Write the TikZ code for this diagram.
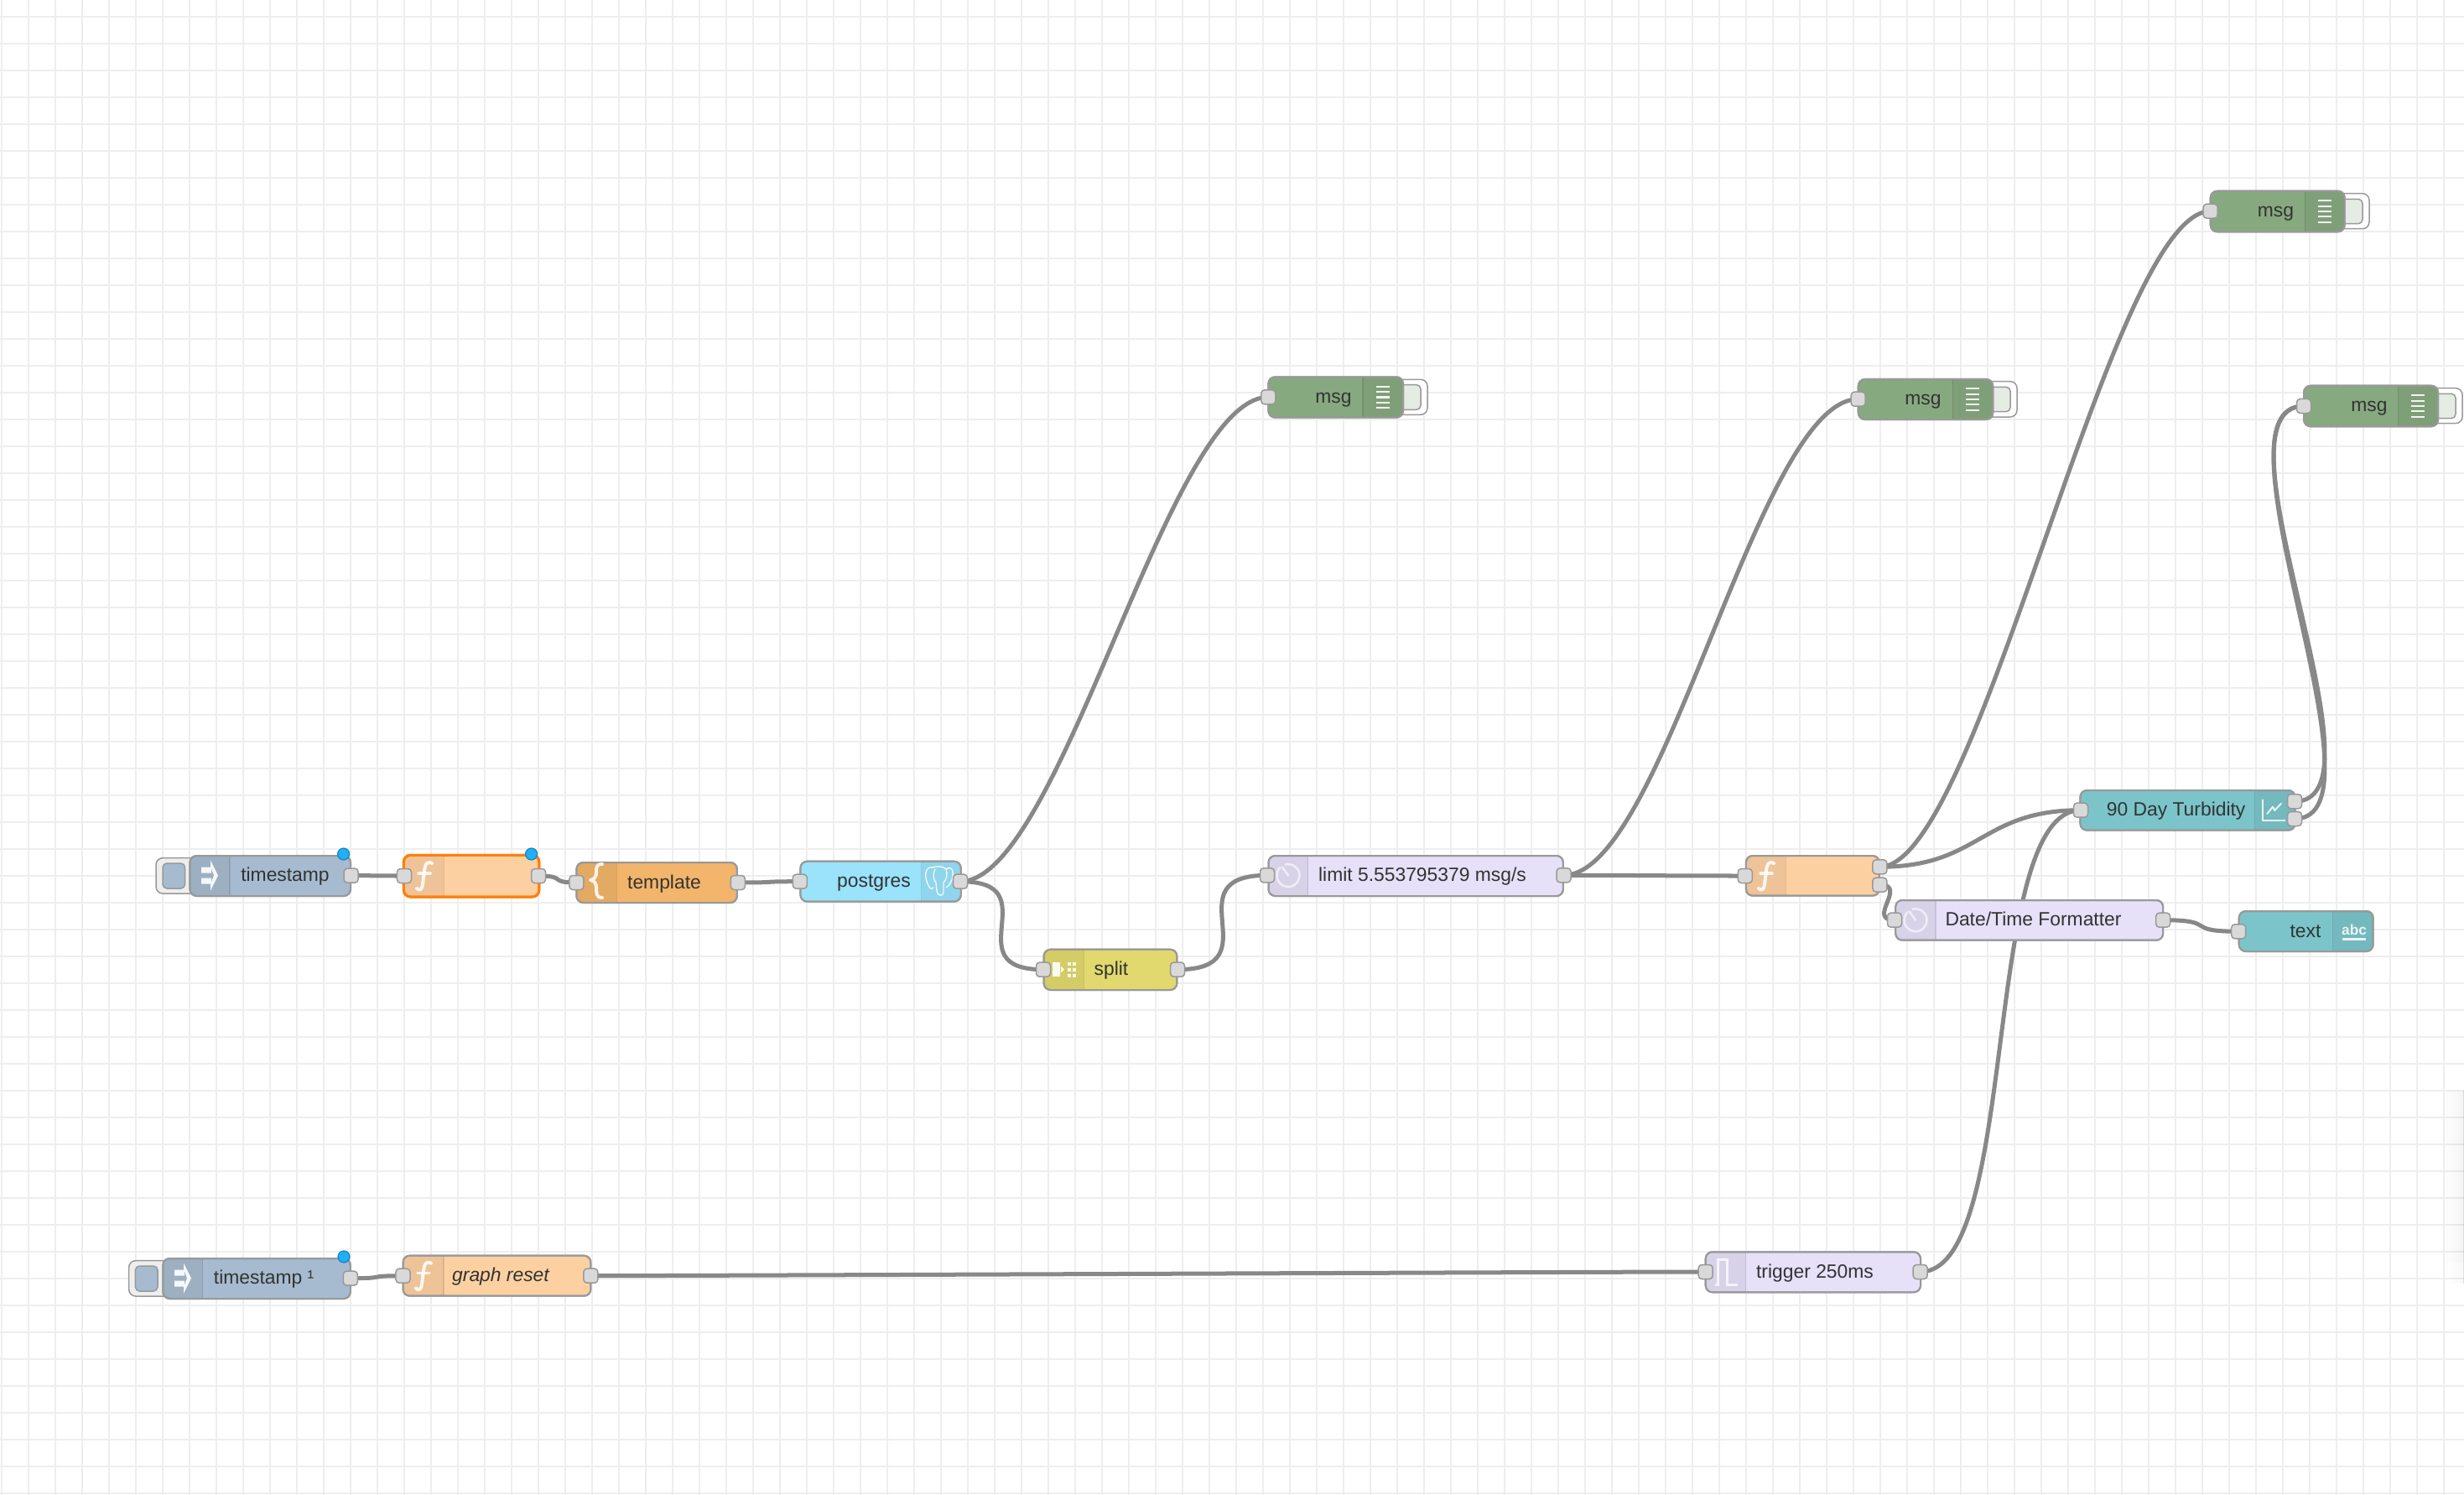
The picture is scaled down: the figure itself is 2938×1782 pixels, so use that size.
\documentclass[tikz,border=0pt]{standalone}
\usepackage{fontspec}
\setmainfont{Liberation Sans}
\usetikzlibrary{calc}
\pgfdeclarelayer{bg}\pgfdeclarelayer{wires}
\pgfsetlayers{bg,wires,main}
\definecolor{cInject}{HTML}{A6BBCF}
\definecolor{cFunc}{HTML}{FDD0A2}
\definecolor{cTempl}{HTML}{F2B56B}
\definecolor{cPg}{HTML}{9AE3FA}
\definecolor{cSplit}{HTML}{E2D96E}
\definecolor{cLimit}{HTML}{E6E0F8}
\definecolor{cMsg}{HTML}{87A980}
\definecolor{cDash}{HTML}{7BC5CA}
\definecolor{cEdge}{HTML}{999999}
\definecolor{cWire}{HTML}{888888}
\definecolor{cGrid}{HTML}{EEEEEE}
\definecolor{cPort}{HTML}{D9D9D9}
\definecolor{cText}{HTML}{333333}
\definecolor{cSel}{HTML}{FF7F0E}
\definecolor{cBadge}{HTML}{1FB0F7}
\tikzset{
  x=0.01cm,y=-0.01cm,
  flowbox/.style={draw=cEdge,line width=0.02cm,rounded corners=0.08cm,inner sep=0,outer sep=0},
  flowedge/.style={draw=cEdge,line width=0.02cm,rounded corners=0.08cm},
  selected/.style={draw=cSel,line width=0.03cm},
  portbox/.style={draw=cEdge,fill=cPort,line width=0.015cm,rounded corners=0.04cm,inner sep=0,outer sep=0,minimum width=0.17cm,minimum height=0.17cm},
  lbl/.style={anchor=base,inner sep=0,text=cText,font=\fontsize{6.5}{8}\selectfont},
  badge/.style={circle,draw=black!25!cBadge,fill=cBadge,line width=0.012cm,inner sep=0,minimum size=0.14cm},
  wire/.style={line width=0.05cm,draw=cWire,to path={.. controls ($(\tikztostart)+(#1,0)$) and ($(\tikztotarget)-(#1,0)$) .. (\tikztotarget)}},
  wire/.default=120,
  iconline/.style={draw=white,line width=0.035cm,opacity=.85,line cap=round,line join=round},
  iconfill/.style={fill=white,opacity=.9},
  btnouter/.style={draw=cEdge,line width=0.015cm,rounded corners=0.08cm},
  btninner/.style={draw=cEdge,line width=0.015cm,rounded corners=0.05cm},
}
\newcommand{\flow}[9][]{%
  \node[flowbox,fill=#7,#1,minimum width={(#5-#3)*0.01cm},minimum height={(#6-#4)*0.01cm}] (#2) at ({(#3+#5)/2},{(#4+#6)/2}) {};
  \begin{scope}
    \clip[rounded corners=0.08cm] (#3,#4) rectangle (#5,#6);
    \fill[black,opacity=.06] (#8,#4) rectangle (#9,#6);
    \draw[black,opacity=.1,line width=0.015cm] (#8,#4) -- (#8,#6) (#9,#4) -- (#9,#6);
  \end{scope}
  \draw[flowedge,#1] (#3,#4) rectangle (#5,#6);
}
\newcommand{\port}[3]{\node[portbox] (#1) at (#2,#3) {};}
\newcommand{\flowlabel}[4]{\node[lbl] (#1) at (#2,{#3+7}) {#4};}
\newcommand{\iconinject}[2]{\begin{scope}[shift={(#1,#2)}]
  \fill[iconfill] (-10,-10) rectangle (2,-3) (-10,3) rectangle (2,10);
  \fill[iconfill] (1,-18) -- (10,0) -- (1,18) -- (1,11) -- (5,0) -- (1,-11) -- cycle;
  \end{scope}}
\newcommand{\iconfunc}[2]{\begin{scope}[shift={(#1,#2)}]
  \draw[iconline,line width=0.04cm] (10,-15) .. controls (4,-18) and (2,-14) .. (1,-6) -- (-1,10) .. controls (-2,17) and (-5,18) .. (-8,15);
  \draw[iconline] (-6,-3) -- (8,-3);
  \end{scope}}
\newcommand{\iconbrace}[2]{\begin{scope}[shift={(#1,#2)}]
  \draw[iconline,line width=0.04cm] (7,-20) .. controls (0,-20) and (0,-16) .. (0,-10) .. controls (0,-5) and (-2,-2) .. (-7,-1) .. controls (-2,0) and (0,3) .. (0,8) .. controls (0,15) and (0,20) .. (7,20);
  \end{scope}}
\newcommand{\iconclock}[2]{\begin{scope}[shift={(#1,#2)}]
  \draw[iconline,opacity=.6,line width=0.025cm] (-3.5,-13) arc (-105:225:13.5);
  \draw[iconline,opacity=.6,line width=0.025cm] (0,0) -- (-7,-10);
  \end{scope}}
\newcommand{\iconlist}[2]{\begin{scope}[shift={(#1,#2)}]
  \foreach \k in {-12.8,-6.4,0,6.4,12.8} {\draw[draw=white,line width=0.02cm,opacity=.9] (-8,\k) -- (8,\k);}
  \end{scope}}
\begin{document}
\begin{tikzpicture}
\useasboundingbox (0,0) rectangle (2938,1782);
\begin{pgfonlayer}{bg}
  \fill[white] (0,0) rectangle (2938,1782);
  \foreach \k in {0,...,91} {\draw[cGrid,line width=0.02cm] ({2+32*\k},0) -- ({2+32*\k},1782);}
  \foreach \k in {0,...,55} {\draw[cGrid,line width=0.02cm] (0,{20+32*\k}) -- (2938,{20+32*\k});}
\end{pgfonlayer}
% sidebar shadow
\foreach \k in {0,...,11} {\fill[black,opacity={0.004+0.0035*\k}] ({2914+2*\k},1300) rectangle ({2916+2*\k},1505);}
\foreach \k in {0,...,11} {\fill[black,opacity={0.002+0.002*\k}] ({2914+2*\k},1505) rectangle ({2916+2*\k},1530);}
\draw[black,opacity=.1,line width=0.01cm] (2937.5,1300) -- (2937.5,1530);

% timestamp
\draw[btnouter,fill=cGrid] (186,1022.7) rectangle (240,1065);
\draw[btninner,fill=cInject] (194,1029) rectangle (220.6,1059);
\flow{ts}{226.4}{1020}{418}{1068}{cInject}{226.4}{274}
\iconinject{250}{1043.5}
\flowlabel{tsL}{340}{1043.7}{timestamp}
\port{tsO}{418.6}{1043.7}
\node[badge] (tsB) at (409.6,1018) {};

% function 1
\flow[selected]{fa}{481.4}{1019.3}{642.8}{1069}{cFunc}{481.4}{529.4}
\iconfunc{505}{1044}
\port{faI}{482}{1044}
\port{faO}{642}{1044}
\node[badge] (faB) at (633.6,1018) {};

% template
\flow{tp}{687.4}{1028}{878.9}{1076}{cTempl}{687.4}{735.4}
\iconbrace{711}{1050}
\flowlabel{tpL}{792}{1052}{template}
\port{tpI}{687.4}{1052}
\port{tpO}{879.8}{1052}

% postgres
\flow{pg}{954.4}{1026.7}{1145.8}{1074.7}{cPg}{1098.6}{1145.8}
\begin{scope}[shift={(1120,1050)}]
  \draw[draw=white,line width=0.014cm,opacity=.85] (-7,-16) .. controls (-16,-18) and (-18,-8) .. (-15,0) .. controls (-13,7) and (-10,12) .. (-7,8);
  \draw[draw=white,line width=0.014cm,opacity=.85] (-7,-16) .. controls (-2,-18) and (4,-18) .. (8,-14) .. controls (14,-18) and (17,-14) .. (16,-6) .. controls (15,2) and (11,6) .. (8,8);
  \draw[draw=white,line width=0.014cm,opacity=.85] (-5,-14) .. controls (-9,-6) and (-6,0) .. (-4,2) -- (-3,12) .. controls (-2,18) and (4,19) .. (5,14) -- (5,2) .. controls (9,-2) and (10,-8) .. (8,-14);
\end{scope}
\flowlabel{pgL}{1042}{1050.7}{postgres}
\port{pgI}{953.8}{1050.7}
\port{pgO}{1145}{1050.7}

% split
\flow{sp}{1244.6}{1131.7}{1403.4}{1180}{cSplit}{1244.6}{1292.4}
\begin{scope}[shift={(1268,1155.7)}]
  \fill[iconfill] (-13,-9) rectangle (-4,8);
  \fill[iconfill] (-3,-4) -- (1,0) -- (-3,4) -- cycle;
  \foreach \a in {7,13} \foreach \b in {-7,0,7} {\fill[iconfill] ({\a-2},{\b-2}) rectangle ({\a+2},{\b+2});}
\end{scope}
\flowlabel{spL}{1325}{1155.7}{split}
\port{spI}{1244}{1155.7}
\port{spO}{1404}{1155.7}

% limit
\flow{lm}{1512.5}{1020}{1863.9}{1068}{cLimit}{1512.5}{1559.7}
\iconclock{1536}{1043.5}
\flowlabel{lmL}{1696}{1043.3}{limit 5.553795379 msg/s}
\port{lmI}{1511}{1043.3}
\port{lmO}{1864.5}{1043.3}

% msg A
\draw[btnouter,fill=white] (1660,452.3) rectangle (1702,494.3);
\draw[btninner,fill=cMsg!22] (1660,458.7) rectangle (1694,488.3);
\flow{ma}{1512.3}{449.3}{1673}{497.7}{cMsg}{1625}{1673}
\iconlist{1649}{473.5}
\flowlabel{maL}{1590}{473.3}{msg}
\port{maI}{1512.3}{473.3}

% msg B
\draw[btnouter,fill=white] (2363,454.7) rectangle (2405,497);
\draw[btninner,fill=cMsg!22] (2363,461.3) rectangle (2397,490.7);
\flow{mb}{2215.7}{452}{2376.3}{500}{cMsg}{2328.3}{2376.3}
\iconlist{2352}{476}
\flowlabel{mbL}{2293}{475.7}{msg}
\port{mbI}{2215.7}{475.7}

% msg top
\draw[btnouter,fill=white] (2783,230.7) rectangle (2825,272.7);
\draw[btninner,fill=cMsg!22] (2783,237.3) rectangle (2817,266.7);
\flow{mc}{2635.7}{227.7}{2795.7}{276.3}{cMsg}{2748.3}{2795.7}
\iconlist{2772}{252}
\flowlabel{mcL}{2713.5}{251.7}{msg}
\port{mcI}{2635.7}{251.7}

% msg right
\draw[btnouter,fill=white] (2894,462.7) rectangle (2936,504.7);
\draw[btninner,fill=cMsg!22] (2894,469.3) rectangle (2928,498.7);
\flow{md}{2747}{459.7}{2907}{508.3}{cMsg}{2859.3}{2907}
\iconlist{2883}{484}
\flowlabel{mdL}{2825}{484}{msg}
\port{mdI}{2747}{484}

% function 2
\flow{fb}{2081.8}{1020}{2240.8}{1067.7}{cFunc}{2081.8}{2129.4}
\iconfunc{2105}{1044}
\port{fbI}{2080.8}{1044}
\port{fbA}{2241.4}{1033.3}
\port{fbB}{2241.4}{1054.7}

% 90 Day Turbidity
\flow{td}{2480.4}{942}{2736.6}{989.7}{cDash}{2688.5}{2736.6}
\draw[iconline,line width=0.02cm] (2698.3,953.3) -- (2698.3,978.3) -- (2724.3,978.3);
\draw[iconline,line width=0.02cm] (2703.3,970) -- (2710,961.7) -- (2712.3,966) -- (2720,957.7);
\flowlabel{tdL}{2594.6}{965.7}{90 Day Turbidity}
\port{tdI}{2481}{965.7}
\port{tdA}{2736}{955.3}
\port{tdB}{2736}{976}

% Date/Time Formatter
\flow{dt}{2260.2}{1073}{2579.2}{1120.7}{cLimit}{2260.2}{2307.8}
\iconclock{2284}{1096.7}
\flowlabel{dtL}{2424.5}{1096.7}{Date/Time Formatter}
\port{dtI}{2259}{1096.7}
\port{dtO}{2579.2}{1096.7}

% text
\flow{tx}{2669.7}{1086}{2829.7}{1134}{cDash}{2781.6}{2829.7}
\node[anchor=base,inner sep=0,text=white,opacity=.85,font=\fontsize{4.9}{6}\selectfont\bfseries] (txA) at (2807,1114) {abc};
\draw[draw=white,line width=0.025cm,opacity=.85] (2792.7,1119.5) -- (2821.3,1119.5);
\flowlabel{txL}{2749}{1110}{text}
\port{txI}{2669.2}{1110.3}

% timestamp 1
\draw[btnouter,fill=cGrid] (153.7,1502.7) rectangle (208,1545);
\draw[btninner,fill=cInject] (161.4,1509) rectangle (188,1539);
\flow{tu}{194.3}{1500}{417.8}{1548}{cInject}{194.3}{241.7}
\iconinject{218}{1523.5}
\flowlabel{tuL}{314.6}{1523.7}{timestamp ¹}
\port{tuO}{417.8}{1523.7}
\node[badge] (tuB) at (410,1498) {};

% graph reset
\flow{gr}{480.5}{1496.7}{704.4}{1544.7}{cFunc}{480.5}{528.8}
\iconfunc{504}{1520.7}
\flowlabel{grL}{597}{1520.7}{\itshape graph reset}
\port{grI}{480.5}{1520.7}
\port{grO}{704.4}{1520.7}

% trigger
\flow{tg}{2033.7}{1492.3}{2290}{1540.3}{cLimit}{2033.7}{2081.7}
\draw[iconline,opacity=.75,line cap=butt,line join=miter,line width=0.03cm] (2045,1531) -- (2048.3,1531) -- (2048.3,1501) -- (2059.3,1501) -- (2059.3,1531) -- (2071.7,1531);
\flowlabel{tgL}{2164}{1516}{trigger 250ms}
\port{tgI}{2033.7}{1516}
\port{tgO}{2289.7}{1516}

% connectors
\begin{pgfonlayer}{wires}
  \draw[wire=47] (tsO.center) to (faI.center);
  \draw[wire=34.6] (faO.center) to (tpI.center);
  \draw[wire=55] (tpO.center) to (pgI.center);
  \draw[wire] (pgO.center) to (maI.center);
  \draw[wire=108] (pgO.center) to (spI.center);
  \draw[wire=116] (spO.center) to (lmI.center);
  \draw[wire] (lmO.center) to (mbI.center);
  \draw[wire] (lmO.center) to (fbI.center);
  \draw[wire] (fbA.center) to (mcI.center);
  \draw[wire] (fbA.center) to (tdI.center);
  \draw[wire=34] (fbB.center) to (dtI.center);
  \draw[wire=68] (dtO.center) to (txI.center);
  \draw[wire] (tdA.center) to (mdI.center);
  \draw[wire] (tdB.center) to (mdI.center);
  \draw[wire=47] (tuO.center) to (grI.center);
  \draw[wire] (grO.center) to (tgI.center);
  \draw[wire] (tgO.center) to (tdI.center);
\end{pgfonlayer}
\end{tikzpicture}
\end{document}
